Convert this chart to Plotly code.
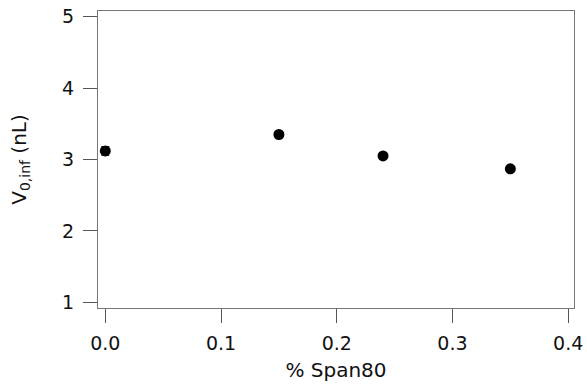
import plotly.graph_objects as go

span80 = [0.0, 0.15, 0.24, 0.35]
v0inf = [3.12, 3.35, 3.05, 2.87]
v0inf_err = [0.06, 0.03, 0.03, 0.03]

x_ticks = [0.0, 0.1, 0.2, 0.3, 0.4]
x_ticklabels = ["0.0", "0.1", "0.2", "0.3", "0.4"]
y_ticks = [1, 2, 3, 4, 5]

fig = go.Figure()
fig.add_trace(go.Scatter(
    x=span80, y=v0inf, mode="markers",
    marker=dict(color="black", size=11),
    error_y=dict(type="data", array=v0inf_err, color="black", thickness=1, width=4),
    showlegend=False,
))

tick_font = dict(family="DejaVu Sans, sans-serif", size=19, color="#111")
title_font = dict(family="DejaVu Sans, sans-serif", size=20, color="#111")
axis_common = dict(
    showgrid=False, zeroline=False, showline=True, mirror=True,
    linecolor="#777", linewidth=1.2, ticks="outside", ticklen=14,
    tickcolor="#555", tickwidth=1, tickfont=tick_font, automargin=False,
)
fig.update_layout(
    width=587, height=389,
    margin=dict(l=98, r=13, t=11, b=81),
    paper_bgcolor="white", plot_bgcolor="white",
    xaxis=dict(range=[-0.0063, 0.405], tickvals=x_ticks, ticktext=x_ticklabels,
               ticklabelstandoff=4,
               title=dict(text="% Span80", font=title_font, standoff=10), **axis_common),
    yaxis=dict(range=[0.92, 5.08], tickvals=y_ticks, ticklabelstandoff=5,
               title=dict(text="V<sub>0,inf</sub> (nL)", font=title_font, standoff=30), **axis_common),
)
fig.write_html("out.html", config={"displayModeBar": False},
               post_script="document.body.style.margin='0';")
